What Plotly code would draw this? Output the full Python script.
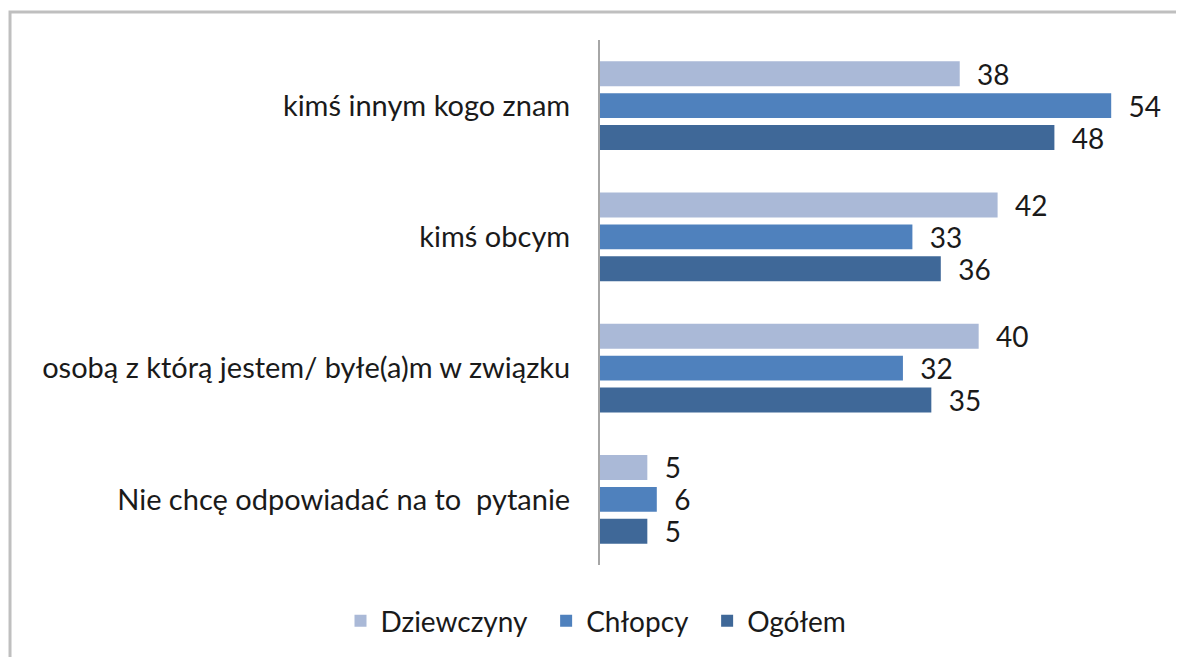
import plotly.graph_objects as go

# dane
kategorie = [
    "kimś innym kogo znam",
    "kimś obcym",
    "osobą z którą jestem/ byłe(a)m w związku",
    "Nie chcę odpowiadać na to  pytanie",
]
dziewczyny = [38, 42, 40, 5]
chlopcy = [54, 33, 32, 6]
ogolem = [48, 36, 35, 5]

serie = [
    ("Dziewczyny", dziewczyny, "#AAB9D7"),
    ("Chłopcy", chlopcy, "#4F81BD"),
    ("Ogółem", ogolem, "#3F6898"),
]

FONT = "Lato"
KOLOR_TEKSTU = "#1A1A1A"
NBSP = "\u00a0"

fig = go.Figure()
for i, (nazwa, wartosci, kolor) in enumerate(serie):
    # odstęp między pozycjami legendy
    etykieta = nazwa + (NBSP * 2 if i < len(serie) - 1 else "")
    fig.add_trace(go.Bar(
        y=kategorie,
        x=wartosci,
        name=etykieta,
        orientation="h",
        marker=dict(color=kolor, line=dict(width=0)),
        text=wartosci,
        textposition="outside",
        texttemplate=NBSP * 2 + "%{x}",
        textfont=dict(family=FONT, size=28, color=KOLOR_TEKSTU),
        constraintext="none",
        cliponaxis=False,
    ))

# strona ma 8px marginesu body -> figura 1176x649
fig.update_layout(
    barmode="group",
    bargap=0.27,
    bargroupgap=0.22,
    width=1176,
    height=649,
    margin=dict(l=592, r=16, t=32, b=92),
    paper_bgcolor="white",
    plot_bgcolor="white",
    font=dict(family=FONT, size=28, color=KOLOR_TEKSTU),
    showlegend=True,
    legend=dict(
        orientation="h",
        xref="container", yref="container",
        x=0.5, xanchor="center",
        y=0.0555, yanchor="middle",
        font=dict(family=FONT, size=28, color=KOLOR_TEKSTU),
        itemwidth=30,
        traceorder="normal",
    ),
    shapes=[
        # ramka wykresu
        dict(type="rect", xref="paper", yref="paper",
             x0=-1.0387, x1=1.06, y0=-0.25, y1=1.0533,
             line=dict(color="#BFBFBF", width=3), layer="below"),
    ],
)

fig.update_xaxes(range=[0, 60], visible=False, showgrid=False, zeroline=False)
fig.update_yaxes(
    autorange="reversed",
    showline=True, linecolor="#A6A6A6", linewidth=2,
    showgrid=False, ticks="",
    ticklabelstandoff=22,
    tickfont=dict(family=FONT, size=29, color=KOLOR_TEKSTU),
)

fig.write_html("out.html")
